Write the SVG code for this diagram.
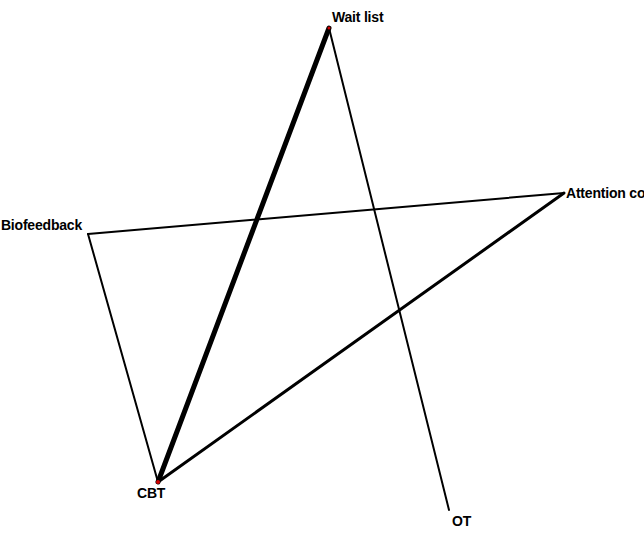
<svg xmlns="http://www.w3.org/2000/svg" width="644" height="534" viewBox="0 0 644 534">
<style>
.e{stroke:#000;fill:none;stroke-linecap:round}
.l{font-family:"Liberation Sans",Arial,sans-serif;font-weight:bold;font-size:14px;letter-spacing:-0.2px;fill:#000}
.d{fill:#d00000}
</style>
<rect width="644" height="534" fill="#fff"/>
<g id="edges">
<line class="e" x1="329" y1="28" x2="158" y2="482" stroke-width="5"/>
<line class="e" x1="329" y1="28" x2="449" y2="510" stroke-width="2"/>
<line class="e" x1="88" y1="234" x2="564" y2="193" stroke-width="2"/>
<line class="e" x1="88" y1="234" x2="158" y2="482" stroke-width="2"/>
<line class="e" x1="564" y1="193" x2="158" y2="482" stroke-width="3"/>
</g>
<g id="n-waitlist"><circle class="d" cx="329" cy="28" r="1.5"/><text class="l" x="332" y="22">Wait list</text></g>
<g id="n-biofeedback"><text class="l" x="82" y="230" text-anchor="end">Biofeedback</text></g>
<g id="n-attention"><text class="l" x="566" y="198">Attention control</text></g>
<g id="n-cbt"><circle class="d" cx="158" cy="482" r="2"/><text class="l" x="137" y="498">CBT</text></g>
<g id="n-ot"><text class="l" x="452" y="526">OT</text></g>
</svg>
